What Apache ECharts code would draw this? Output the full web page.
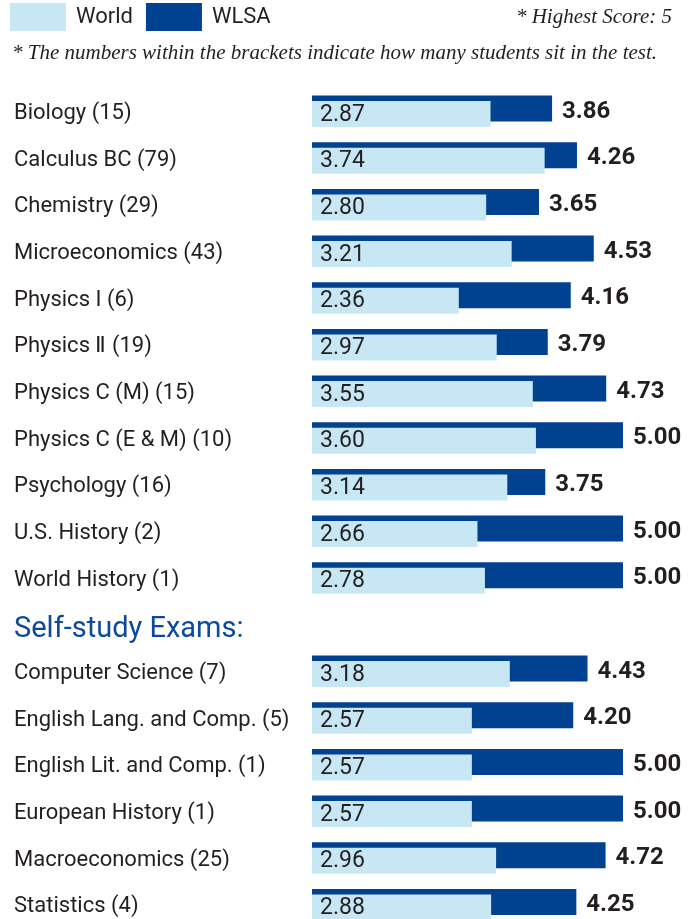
<!DOCTYPE html>
<html>
<head>
<meta charset="utf-8">
<script src="https://cdn.jsdelivr.net/npm/echarts@6/dist/echarts.min.js"></script>
<style>
  html, body { margin: 0; padding: 0; background: #fff; }
  #chart { width: 699px; height: 919px; }
</style>
</head>
<body>
<div id="chart"></div>
<script>
const categories = [
  'Biology (15)', 'Calculus BC (79)', 'Chemistry (29)', 'Microeconomics (43)',
  'Physics I (6)', 'Physics Ⅱ (19)', 'Physics C (M) (15)', 'Physics C (E & M) (10)',
  'Psychology (16)', 'U.S. History (2)', 'World History (1)',
  'Self-study Exams:',
  'Computer Science (7)', 'English Lang. and Comp. (5)', 'English Lit. and Comp. (1)',
  'European History (1)', 'Macroeconomics (25)', 'Statistics (4)'
];
const headerCategory = 'Self-study Exams:';
const worldScores = [2.87, 3.74, 2.80, 3.21, 2.36, 2.97, 3.55, 3.60, 3.14, 2.66, 2.78, null, 3.18, 2.57, 2.57, 2.57, 2.96, 2.88];
const wlsaScores  = [3.86, 4.26, 3.65, 4.53, 4.16, 3.79, 4.73, 5.00, 3.75, 5.00, 5.00, null, 4.43, 4.20, 5.00, 5.00, 4.72, 4.25];
const legendNames = ['World', 'WLSA'];
const noteTop = '* Highest Score: 5';
const noteBottom = '* The numbers within the brackets indicate how many students sit in the test.';

const TEXT = '#231f20';
const LIGHT = '#c8e7f5';
const DARK = '#00428f';
const FONT = 'Roboto, "Noto Sans", sans-serif';
const SERIF = '"Liberation Serif", "DejaVu Serif", serif';

const chart = echarts.init(document.getElementById('chart'));
chart.setOption({
  animation: false,
  backgroundColor: '#ffffff',
  legend: {
    data: legendNames,
    left: 10, top: 3, padding: 0,
    itemWidth: 56, itemHeight: 28, itemGap: 13,
    icon: 'rect',
    selectedMode: false,
    textStyle: { fontFamily: FONT, fontSize: 22, color: TEXT, padding: [0, 0, 0, 5] }
  },
  graphic: [
    { type: 'text', right: 27, top: 7,
      style: { text: noteTop, fontFamily: SERIF, fontStyle: 'italic', fontSize: 21, fill: TEXT } },
    { type: 'text', left: 12, top: 43,
      style: { text: noteBottom, fontFamily: SERIF, fontStyle: 'italic', fontSize: 21, fill: TEXT } }
  ],
  grid: { left: 312, top: 88, width: 311, height: 840, containLabel: false, outerBoundsMode: 'none' },
  xAxis: {
    type: 'value', min: 0, max: 5,
    show: false
  },
  yAxis: {
    type: 'category', inverse: true, data: categories,
    axisLine: { show: false }, axisTick: { show: false }, splitLine: { show: false },
    axisLabel: {
      align: 'left', margin: 298,
      fontFamily: FONT, fontSize: 22, color: TEXT,
      padding: [4, 0, 0, 0],
      formatter: function (v) { return v === headerCategory ? '{h|' + v + '}' : v; },
      rich: { h: { fontFamily: FONT, fontSize: 29, color: '#0b4a9b', padding: [6, 0, 0, 0] } }
    }
  },
  series: [
    {
      name: 'WLSA', type: 'bar', data: wlsaScores,
      barWidth: 26, barGap: '-79%', z: 2,
      itemStyle: { color: DARK },
      label: {
        show: true, position: 'right', distance: 10, offset: [0, 3],
        fontFamily: FONT, fontSize: 24, fontWeight: 'bold', color: TEXT,
        formatter: function (p) { return p.value == null ? '' : p.value.toFixed(2); }
      }
    },
    {
      name: 'World', type: 'bar', data: worldScores,
      barWidth: 26, z: 3,
      itemStyle: { color: LIGHT },
      label: {
        show: true, position: 'insideLeft', distance: 8, offset: [0, 1],
        fontFamily: FONT, fontSize: 23, color: TEXT,
        formatter: function (p) { return p.value == null ? '' : p.value.toFixed(2); }
      }
    }
  ]
});
</script>
</body>
</html>
